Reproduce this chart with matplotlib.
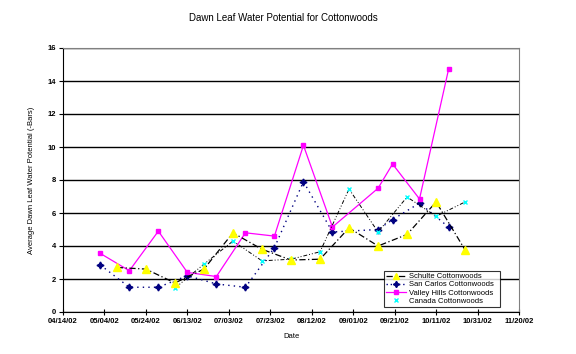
import matplotlib
matplotlib.use('Agg')
import matplotlib.pyplot as plt
import matplotlib.dates as mdates
from matplotlib.lines import Line2D
import pandas as pd

plt.rcParams['font.family'] = ['Liberation Sans', 'DejaVu Sans']

# Schulte / Canada sampling dates
schulte_dates = ['2002-05-10', '2002-05-24', '2002-06-07', '2002-06-21', '2002-07-05',
                 '2002-07-19', '2002-08-02', '2002-08-16', '2002-08-30', '2002-09-13',
                 '2002-09-27', '2002-10-11', '2002-10-25']
schulte_vals = [2.7, 2.6, 1.76, 2.6, 4.8, 3.8, 3.15, 3.2, 5.1, 4.0, 4.7, 6.67, 3.76]

canada_dates = schulte_dates[2:]
canada_vals = [1.45, 2.9, 4.3, 3.1, 3.2, 3.65, 7.45, 4.85, 6.97, 5.8, 6.67]

# San Carlos / Valley Hills sampling dates
valley_dates = ['2002-05-02', '2002-05-16', '2002-05-30', '2002-06-13', '2002-06-27',
                '2002-07-11', '2002-07-25', '2002-08-08', '2002-08-22', '2002-09-13',
                '2002-09-20', '2002-10-03', '2002-10-17']
sancarlos_vals = [2.85, 1.5, 1.5, 2.2, 1.7, 1.5, 3.9, 7.9, 4.85, 5.0, 5.6, 6.6, 5.15]
valley_vals = [3.55, 2.5, 4.9, 2.4, 2.15, 4.8, 4.6, 10.1, 5.15, 7.5, 8.97, 6.85, 14.7]

tick_dates = pd.date_range('2002-04-14', '2002-11-20', freq='20D')

fig = plt.figure(figsize=(5.76, 3.54), dpi=100)
ax = fig.add_axes([63 / 576, 1 - 312 / 354, 456 / 576, 264 / 354])

sd = pd.to_datetime(schulte_dates)
cd = pd.to_datetime(canada_dates)
vd = pd.to_datetime(valley_dates)

star = (4, 1, 0)
ax.plot(sd, schulte_vals, color='black', lw=0.9, ls=(0, (5, 2, 1, 2)),
        marker='^', ms=6, mfc='yellow', mec='yellow', zorder=4)
ax.plot(vd, sancarlos_vals, color='#000080', lw=1.0, ls=(0, (1, 3)),
        marker=star, ms=5, mfc='#000080', mec='#000080', zorder=3)
ax.plot(vd, valley_vals, color='#ff00ff', lw=0.9, ls='-',
        marker='s', ms=3.5, mfc='#ff00ff', mec='#ff00ff', zorder=3)
ax.plot(cd, canada_vals, color='black', lw=0.7, ls=(0, (4, 2, 1, 2, 1, 2)),
        marker='x', ms=3, mfc='#00ffff', mec='#00ffff', mew=1, zorder=3)

ax.set_xlim(tick_dates[0], tick_dates[-1])
ax.set_ylim(0, 16)
ax.set_yticks(range(0, 17, 2))
ax.set_xticks(tick_dates)
ax.xaxis.set_major_formatter(mdates.DateFormatter('%m/%d/%y'))

ax.yaxis.grid(True, color='black', lw=1.0)
ax.set_axisbelow(True)
for s in ['top', 'right']:
    ax.spines[s].set_color('#808080')
for s in ['left', 'bottom']:
    ax.spines[s].set_color('black')
ax.tick_params(axis='x', direction='inout', length=4, width=0.8, labelsize=5.5, pad=2)
ax.tick_params(axis='y', direction='out', length=3, width=0.8, labelsize=5.5, pad=2)
for lab in ax.get_xticklabels() + ax.get_yticklabels():
    lab.set_fontweight('bold')

ax.set_xlabel('Date', fontsize=5.5, labelpad=6)
ax.set_ylabel('Average Dawn Leaf Water Potential (-Bars)', fontsize=5.5, labelpad=9)
fig.text(283 / 576, 1 - 18 / 354, 'Dawn Leaf Water Potential for Cottonwoods',
         ha='center', va='center', fontsize=7)

handles = [
    Line2D([0], [0], color='black', lw=0.9, ls=(0, (5, 2, 1, 2)), marker='^', ms=5,
           mfc='yellow', mec='yellow'),
    Line2D([0], [0], color='#000080', lw=1.0, ls=(0, (1, 2)), marker=star, ms=4.5,
           mfc='#000080', mec='#000080'),
    Line2D([0], [0], color='#ff00ff', lw=0.9, marker='s', ms=3, mfc='#ff00ff', mec='#ff00ff'),
    Line2D([0], [0], color='none', marker='x', ms=3, mec='#00ffff', mew=1),
]
labels = ['Schulte Cottonwoods', 'San Carlos Cottonwoods', 'Valley Hills Cottonwoods',
          'Canada Cottonwoods']
leg = ax.legend(handles, labels, loc='lower left', bbox_to_anchor=(0.704, 0.019, 0.254, 0.13),
                mode='expand', fontsize=5.5, frameon=True, fancybox=False,
                borderpad=0.3, labelspacing=0.1, handlelength=2.6, handletextpad=0.4,
                borderaxespad=0)
leg.get_frame().set_edgecolor('black')
leg.get_frame().set_linewidth(0.8)

fig.savefig('out.png', dpi=100)
